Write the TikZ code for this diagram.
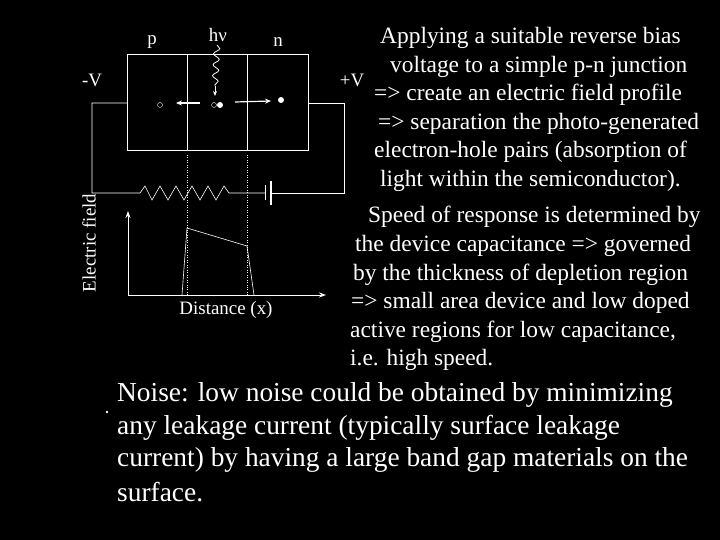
\documentclass[tikz,border=0pt]{standalone}
\usepackage{fontspec}
\setmainfont{Liberation Serif}
\usetikzlibrary{decorations.pathmorphing,arrows.meta}
\begin{document}
\begin{tikzpicture}[x=1bp,y=-1bp,
  wire/.style={draw=white,line width=0.6pt},
  lbl/.style={text=white,font=\fontsize{19}{21}\selectfont,inner sep=0},
  rt/.style={text=white,font=\fontsize{23.5}{26}\selectfont,inner sep=0,anchor=west},
  bt/.style={text=white,font=\fontsize{27.5}{30}\selectfont,inner sep=0,anchor=west},
  arr/.style={draw=white,line width=1.2pt,-{Stealth[length=6pt,width=5pt]}}]
\fill[black] (0,0) rectangle (720,540);
\useasboundingbox (0,0) rectangle (720,540);
% device box
\draw[wire] (127,54) rectangle (308,150);
\draw[wire] (187,54) -- (187,150) (247,54) -- (247,150);
% circuit
\coordinate (lt) at (127,103); \coordinate (rt1) at (308,103);
\draw[wire] (lt) -- (92,103) -- (92,193) -- (140,193)
  -- (145,186) -- (152,200) -- (160,186) -- (168,200) -- (176,186) -- (184,200) -- (192,186) -- (200,200) -- (208,186) -- (216,200) -- (224,186) -- (229,193)
  -- (265,193);
\draw[wire] (rt1) -- (344,103) -- (344,193) -- (271,193);
\draw[white,line width=0.8pt] (265,185) -- (265,200);
\draw[white,line width=2pt] (271,181) -- (271,205);
% dotted
\draw[white,dotted,line width=0.5pt] (187,155) -- (187,295) (247,155) -- (247,295);
% axes
\node[lbl,rotate=90] (ef) at (89,243) {Electric field};
\draw[draw=white,line width=1pt,-{Stealth[length=7pt,width=5pt]}] (128,295) -- (128,211);
\draw[draw=white,line width=1pt,-{Stealth[length=7pt,width=5pt]}] (128,295) -- (326,295);
\draw[wire] (182,295) -- (187,228) -- (247,246) -- (254,295);
\node[lbl] (dx) at (226,310) {Distance (x)};
% labels
\node[lbl] (p) at (152,42) {p};
\node[lbl] (hv) at (218,35) {hν};
\node[lbl] (n) at (278,42) {n};
\node[lbl] (mv) at (92,80) {-V};
\node[lbl] (pv) at (352,80) {+V};
% photon
\draw[white,line width=0.8pt,decorate,decoration={snake,amplitude=3pt,segment length=11pt}] (217,45) -- (215,86);
\draw[draw=white,line width=0.8pt,-{Stealth[length=5pt,width=4pt]}] (215,86) -- (215,96);
% carriers
\node[draw=white,circle,inner sep=0,minimum size=5pt] (h1) at (160,105) {};
\node[draw=white,circle,inner sep=0,minimum size=5pt] (h0) at (214,105) {};
\node[fill=white,circle,inner sep=0,minimum size=6pt] (e0) at (220,105) {};
\node[fill=white,circle,inner sep=0,minimum size=6pt] (e1) at (281,100) {};
\draw[arr] (200,103) -- (176,103);
\draw[arr] (235,102) -- (271,101);
% right text
\node[rt] at (380,38) {Applying a suitable reverse bias};
\node[rt] at (390,67) {voltage to a simple p-n junction};
\node[rt] at (374,95) {=> create an electric field profile};
\node[rt] at (378,124) {=> separation the photo-generated};
\node[rt] at (374,152) {electron-hole pairs (absorption of};
\node[rt] at (380,181) {light within the semiconductor).};
\node[rt] at (368,217) {Speed of response is determined by};
\node[rt] at (355,246) {the device capacitance => governed};
\node[rt] at (353,275) {by the thickness of depletion region};
\node[rt] at (351,303) {=> small area device and low doped};
\node[rt] at (350,332) {active regions for low capacitance,};
\node[rt] at (350,360) {i.e. high speed.};
% bullet
\fill[white] (107,412) circle (1.3);
\node[bt] at (117,395) {Noise: low noise could be obtained by minimizing};
\node[bt] at (117,428) {any leakage current (typically surface leakage};
\node[bt] at (117,460) {current) by having a large band gap materials on the};
\node[bt] at (117,492) {surface.};
\end{tikzpicture}
\end{document}
